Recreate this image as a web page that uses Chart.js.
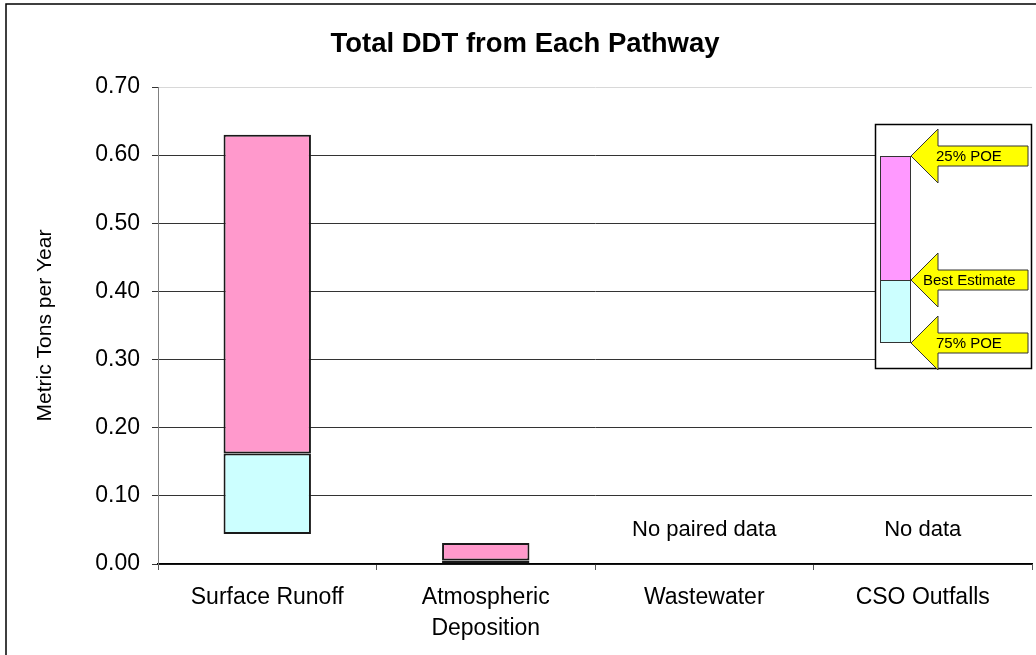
<!DOCTYPE html>
<html>
<head>
<meta charset="utf-8">
<script src="https://cdn.jsdelivr.net/npm/chart.js@4/dist/chart.umd.min.js"></script>
<style>
  html, body { margin: 0; padding: 0; background: #fff; }
  #wrap { width: 1036px; height: 655px; position: relative; }
</style>
</head>
<body>
<div id="wrap"><canvas id="myChart"></canvas></div>
<script>
// values (metric tons per year)
var categories = ['Surface Runoff', ['Atmospheric', 'Deposition'], 'Wastewater', 'CSO Outfalls'];
var poe75 = [0.044, 0.000, null, null];
var bestEstimate = [0.162, 0.005, null, null];
var poe25 = [0.630, 0.031, null, null];
var notes = ['', '', 'No paired data', 'No data'];
var yTicks = [0, 0.1, 0.2, 0.3, 0.4, 0.5, 0.6, 0.7];

var FONT = "Arial, 'Liberation Sans', sans-serif";

// floating bars: low part [75% POE, best], high part [best, 25% POE]
var lowPart = categories.map(function (c, i) {
  return poe75[i] == null ? null : [poe75[i], bestEstimate[i]];
});
var highPart = categories.map(function (c, i) {
  return poe25[i] == null ? null : [bestEstimate[i], poe25[i]];
});

// "No data" notes over the empty categories
var notesPlugin = {
  id: 'notes',
  afterDatasetsDraw: function (chart) {
    var ctx = chart.ctx, x = chart.scales.x, y = chart.scales.y;
    ctx.save();
    ctx.font = '22px ' + FONT;
    ctx.fillStyle = '#000';
    ctx.textAlign = 'center';
    ctx.textBaseline = 'middle';
    notes.forEach(function (t, i) {
      if (t) ctx.fillText(t, x.getPixelForValue(i), y.getPixelForValue(0.05));
    });
    ctx.restore();
  }
};

// the little key box with yellow arrows, plus the outer frame
function arrow(ctx, bx, cy, label, tx) {
  ctx.beginPath();
  ctx.moveTo(bx + 36, cy);
  ctx.lineTo(bx + 63, cy - 27);
  ctx.lineTo(bx + 63, cy - 10);
  ctx.lineTo(bx + 153, cy - 10);
  ctx.lineTo(bx + 153, cy + 10);
  ctx.lineTo(bx + 63, cy + 10);
  ctx.lineTo(bx + 63, cy + 27);
  ctx.closePath();
  ctx.fillStyle = '#ffff00';
  ctx.fill();
  ctx.strokeStyle = '#333';
  ctx.lineWidth = 1;
  ctx.stroke();
  ctx.fillStyle = '#000';
  ctx.font = '15px ' + FONT;
  ctx.textAlign = 'left';
  ctx.textBaseline = 'middle';
  ctx.fillText(label, bx + tx, cy + 1);
}

var keyPlugin = {
  id: 'key',
  afterDraw: function (chart) {
    var ctx = chart.ctx, a = chart.chartArea;
    var bx = a.right - 157, by = a.top + 37;
    ctx.save();
    ctx.fillStyle = '#fff';
    ctx.fillRect(bx, by, 157, 245);
    ctx.strokeStyle = '#000';
    ctx.lineWidth = 1.5;
    ctx.strokeRect(bx + 0.5, by + 0.5, 156, 244);
    // key bar
    ctx.lineWidth = 1;
    ctx.fillStyle = '#ff99ff';
    ctx.fillRect(bx + 5, by + 32, 31, 124);
    ctx.fillStyle = '#ccffff';
    ctx.fillRect(bx + 5, by + 156, 31, 63);
    ctx.strokeStyle = '#333';
    ctx.strokeRect(bx + 5.5, by + 32.5, 30, 186);
    ctx.beginPath();
    ctx.moveTo(bx + 5, by + 156.5);
    ctx.lineTo(bx + 36, by + 156.5);
    ctx.stroke();
    arrow(ctx, bx, by + 32, '25% POE', 61);
    arrow(ctx, bx, by + 156, 'Best Estimate', 48);
    arrow(ctx, bx, by + 219, '75% POE', 61);
    // outer frame
    ctx.strokeStyle = '#000';
    ctx.lineWidth = 1.5;
    ctx.strokeRect(6, 4, 1100, 1000);
    ctx.restore();
  }
};

var ctx = document.getElementById('myChart').getContext('2d');
var chart = new Chart(ctx, {
  type: 'bar',
  data: {
    labels: categories,
    datasets: [{
      label: '75% POE to Best Estimate',
      data: lowPart,
      backgroundColor: '#ccffff',
      borderColor: '#1a1a1a',
      borderWidth: 2,
      borderSkipped: false
    }, {
      label: 'Best Estimate to 25% POE',
      data: highPart,
      backgroundColor: '#ff99cc',
      borderColor: '#1a1a1a',
      borderWidth: 2,
      borderSkipped: false
    }]
  },
  plugins: [notesPlugin, keyPlugin],
  options: {
    responsive: true,
    maintainAspectRatio: false,
    animation: false,
    categoryPercentage: 1,
    barPercentage: 0.4,
    layout: { padding: { left: 18, right: 4, top: 0, bottom: 0 } },
    plugins: {
      legend: { display: false },
      tooltip: { enabled: false },
      title: {
        display: true,
        text: 'Total DDT from Each Pathway',
        color: '#000',
        font: { family: FONT, size: 27.5, weight: 'bold' },
        padding: { top: 28, bottom: 26 }
      }
    },
    scales: {
      x: {
        stacked: true,
        grid: {
          drawOnChartArea: false,
          offset: true,
          tickLength: 6,
          color: '#555'
        },
        border: { color: '#000', width: 1.5 },
        ticks: {
          color: '#000',
          padding: 12,
          maxRotation: 0,
          autoSkip: false,
          font: { family: FONT, size: 23, lineHeight: 1.35 }
        },
        afterFit: function (s) { s.height = 91; }
      },
      y: {
        stacked: false,
        min: 0,
        max: 0.7,
        afterBuildTicks: function (s) {
          s.ticks = yTicks.map(function (v) { return { value: v }; });
        },
        grid: {
          color: function (c) { return c.tick && c.tick.value === 0.7 ? '#d8d8d8' : '#333'; },
          tickColor: '#333',
          tickLength: 6
        },
        border: { color: '#808080', width: 1 },
        ticks: {
          color: '#000',
          padding: 12,
          font: { family: FONT, size: 23 },
          callback: function (v) { return Number(v).toFixed(2); }
        },
        title: {
          display: true,
          text: 'Metric Tons per Year',
          color: '#000',
          font: { family: FONT, size: 21 },
          padding: { top: 15, bottom: 0 }
        },
        afterFit: function (s) { s.width = 140; }
      }
    }
  }
});
</script>
</body>
</html>
